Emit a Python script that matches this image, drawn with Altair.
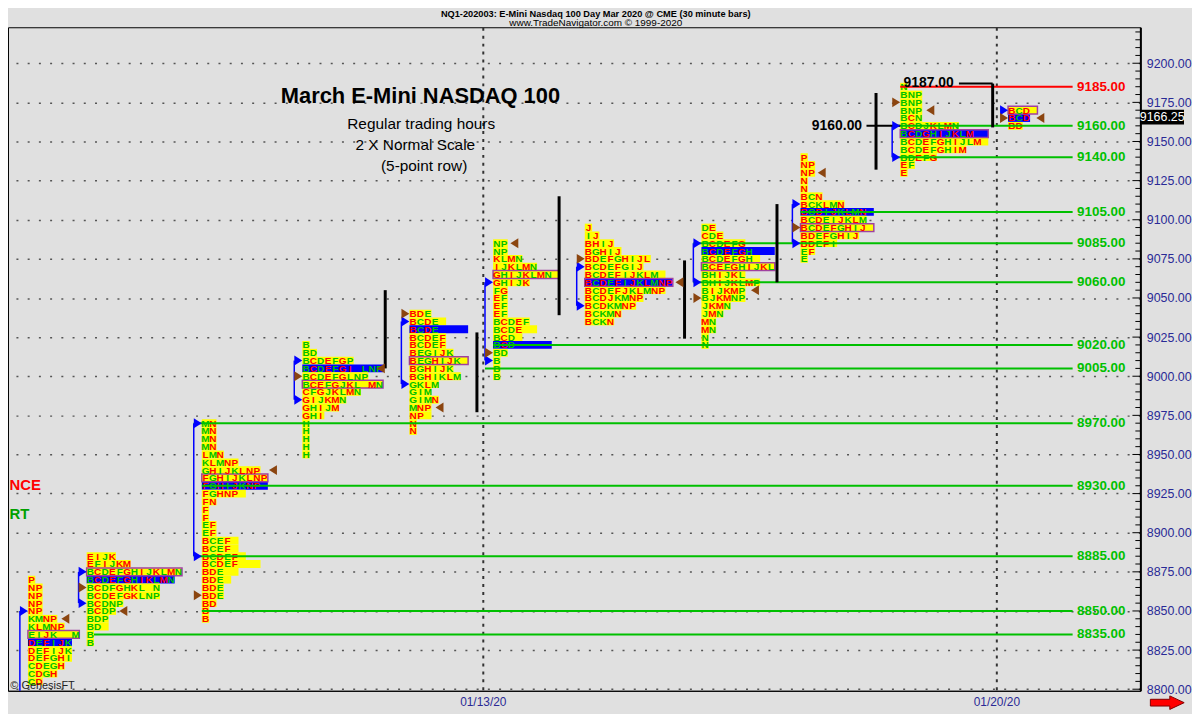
import altair as alt
import pandas as pd

# ---------------- data ----------------
X_MIN, X_MAX = -64.72, 89.63          # time axis in 30-minute bar slots (01/13/20 = 0)
Y_MIN, Y_MAX = 8799.0, 9223.0         # price axis
ROW = 5                               # 5-point rows

DATE_TICKS = [0, 70]
DATE_LABELS = ["01/13/20", "01/20/20"]
PRICE_TICKS = list(range(8800, 9201, 25))

PROFILE_STARTS = [-62.0, -54.0, -38.3, -24.6, -10.0, 1.4, 13.9, 29.8, 43.3, 56.9, 71.6]
PROFILE_TOPS = [8870, 8885, 8970, 9020, 9040, 9085, 9095, 9095, 9140, 9185, 9170]
# '*' = point-of-control row (blue), '#' = outlined row (purple)
PROFILE_ROWS = [
    ["P", "NP", "NP", "NP", "NP", "KMNP", "KLMNP", "#EIJK  M", "*DEFIJK", "DEFIJK",
     "DEFGHI", "CDEGH", "CDGH", "CD"],
    ["EIJK", "EFIJKM", "#BCDEFGHIJKLMN", "*BCDEFGHIKLMN", "BCDFGHKL N", "BCDEFGKLNP",
     "BCDNP", "BCDP", "BDP", "BD ", "B", "B"],
    ["MN", "MN", "MN", "MN", "LMN", "KLMNP", "GHIJKLNP", "#FGHIJKLNP", "*FGHIJKNP ",
     "FGHNP ", "FN", "F", "F", "EF", "EF", "BCEF ", "BCEF ", "BCDEF ", "BCDEF   ",
     "BDE  ", "BDE ", "BDE", "BDE", "BD", "B", "B"],
    ["B", "BD", "BCDEFGP", "*BCDEFGI LNP", "BCDEFGLNP", "#BCEFGJKL MN", "CFGJKLMN",
     "GIJKMN", "GHIJM", "GHI", "H", "H", "H", "H", "H"],
    ["BDE", "BCDE ", "*BCDE    ", "BCDEF", "BCDEF", "BEGIJK", "#BEGHIJK ", "BGHIJK",
     "BGHIKLM", "GKLM", "GIM", "GIMN", "MNP", "NP ", "N", "N"],
    ["NP", "NP", "KLMN", "IJKLMN", "#GHIJKLMN ", "GHIJK", "FG", "EF", "EF", "EF",
     "BCDEF", "BCDE  ", "BCD ", "*BCD     ", "BD", "B", "B", "B"],
    ["J", "IJ", "BHIJ", "BGHIJ", "BDEFGHIJL", "BCDEFGIJ", "BCDEFIJKLM ",
     "*#BCDEFIJKLMNP", "BCDEFJKLMNP", "BCDJKMNP", "BCDKMNP", "BCKMN", "BCKN"],
    ["DE", "CDE", "BCDEFG", "*BCDEFGH   ", "BCDEFGH ", "#BCEFGHIJKL", "BHIJKL",
     "BHIJKLMP", "BIJKMP", "BJKMNP", "JKMN", "JMN", "MN", "MN", "N", "N"],
    ["P", "NP", "NP", "N", "N", "BCN", "BCKLMN", "*BCDIJKLMN ", "BCDEIJKLM",
     "#BCDEFGHIJ ", "BDEFGHIJ", "BDEFI", "EF", "E"],
    ["N", "BNP", "BNP", "BNP", "BCN", "BCDJKLMN", "*#BCDGHIJKLM  ", "BCDEFGHIJLM ",
     "BCDEFGHIM", "BDEFG", "EF", "E"],
    ["#BCD ", "*BCD", "BD"],
]

# value-area markers
BLUE_TRI = [(0, 8850), (1, 8875), (1, 8855), (2, 8970), (2, 8885), (3, 9010), (3, 8985),
            (4, 9035), (4, 8995), (5, 9060), (5, 9010), (6, 9070), (6, 9045), (7, 9085),
            (7, 9060), (8, 9110), (8, 9085), (9, 9160), (9, 9140), (10, 9170)]
BLUE_LINES = [(0, 8850, 8799), (1, 8875, 8855), (2, 8970, 8885), (3, 9010, 8985),
              (4, 9035, 8995), (5, 9060, 9010), (6, 9070, 9045), (7, 9085, 9060),
              (8, 9110, 9085), (9, 9160, 9140)]
BROWN_LEFT = [(1, 8865), (2, 8860), (3, 9000), (4, 9040), (5, 9015), (6, 9075),
              (7, 9050), (8, 9095), (9, 9175), (10, 9165)]
BROWN_RIGHT_U = [-56.9, -49.0, -28.6, -13.9, -5.9, 4.3, 26.8, 37.1, 46.2, 61.0, 76.0]
BROWN_RIGHT_P = [8845, 8850, 8940, 9005, 8980, 9085, 9060, 9055, 9130, 9170, 9165]

# black range lines
BLACK_U = [-13.3, -0.8, 10.4, 27.5, 40.1, 53.6, 69.5]
BLACK_TOP = [9055, 9028, 9115, 9074, 9110, 9181, 9187]
BLACK_BOT = [9005, 8977, 9039, 9024, 9060, 9132, 9159]
BLACK_H_U1 = [64.9, 52.3]
BLACK_H_U2 = [69.5, 56.9]
BLACK_H_P = [9187, 9160]

# support / resistance levels
LEVEL_PRICES = [9185, 9160, 9140, 9105, 9085, 9060, 9020, 9005, 8970, 8930, 8885, 8850, 8835]
LEVEL_STARTS = [56.9, 55.8, 55.8, 43.3, 28.7, 28.7, 1.4, 0.3, -39.4, -38.3, -39.4, -38.3, -53.0]
LEVEL_END = 80.4
LEVEL_LABEL_U = 87.6

LAST_PRICE = 9166.25

# ---------------- styles ----------------
FONT = "Liberation Sans"
BG = "#e0e0e0"
NAVY = "#2a2a96"
GREEN = "#00c000"
RED = "#ff0000"
YELLOW = "#ffff00"
BLUE = "#0000ff"
PURPLE = "#a040a0"
BROWN = "#8b4510"

xs = alt.Scale(domain=[X_MIN, X_MAX], nice=False, zero=False)
ys = alt.Scale(domain=[Y_MIN, Y_MAX], nice=False, zero=False)

label_expr = " : ".join(
    [f"datum.value == {v} ? '{l}'" for v, l in zip(DATE_TICKS, DATE_LABELS)] + ["''"])

x_axis = alt.Axis(values=DATE_TICKS, labelExpr=label_expr,
                  title=None, orient="bottom", ticks=False, labelColor=NAVY,
                  labelFontSize=12, labelFont=FONT, labelPadding=6,
                  domainColor="black", domainWidth=1, grid=True, gridColor="#333333",
                  gridDash=[3, 5], gridWidth=2)
y_axis = alt.Axis(values=PRICE_TICKS, format=".2f", orient="right", title=None,
                  ticks=False, labelColor=NAVY, labelFontSize=12.5, labelFont=FONT,
                  labelPadding=6, domainColor="black", domainWidth=2, grid=True,
                  gridColor="#555555", gridDash=[2, 9.3], gridWidth=1.5)


def X(f):
    return alt.X(f"{f}:Q", scale=xs, axis=x_axis)


def Y(f):
    return alt.Y(f"{f}:Q", scale=ys, axis=y_axis)


# ---------------- build tables ----------------
letters, fills, outlines = [], [], []
for k, (s, top, rows) in enumerate(zip(PROFILE_STARTS, PROFILE_TOPS, PROFILE_ROWS)):
    for r, row in enumerate(rows):
        p = top - ROW * r
        blue = "*" in row
        purple = "#" in row
        text = row.replace("*", "").replace("#", "")
        fills.append(dict(u=s, u2=s + len(text), p1=p - 2.5, p2=p + 2.5,
                          fill=BLUE if blue else YELLOW))
        if purple:
            outlines.append(dict(u=s, u2=s + len(text), p1=p - 2.5, p2=p + 2.5))
        for i, ch in enumerate(text):
            if ch != " ":
                idx = ord(ch) - ord("A")
                col = RED if (idx + k) % 2 == 1 else GREEN
                letters.append(dict(u=s + i + 0.5, p=p, ch=ch, color=col))

letters_df = pd.DataFrame(letters)
fills_df = pd.DataFrame(fills)
outlines_df = pd.DataFrame(outlines)

ticks = []
for p in range(8800, 9221, 5):
    length = 1.08 if p % 25 == 0 else 0.68
    ticks.append(dict(u=X_MAX - length, u2=X_MAX, p=p))
ticks_df = pd.DataFrame(ticks)

blue_tri_df = pd.DataFrame([dict(u=PROFILE_STARTS[k] - 0.55, p=p) for k, p in BLUE_TRI])
brown_l_df = pd.DataFrame([dict(u=PROFILE_STARTS[k] - 0.55, p=p) for k, p in BROWN_LEFT])
brown_r_df = pd.DataFrame(dict(u=BROWN_RIGHT_U, p=BROWN_RIGHT_P))
blue_lines_df = pd.DataFrame([dict(u=PROFILE_STARTS[k] - 1.1, p1=a, p2=b) for k, a, b in BLUE_LINES])
black_v_df = pd.DataFrame(dict(u=BLACK_U, p1=BLACK_TOP, p2=BLACK_BOT))
black_h_df = pd.DataFrame(dict(u=BLACK_H_U1, u2=BLACK_H_U2, p=BLACK_H_P))
levels_df = pd.DataFrame(dict(
    p=LEVEL_PRICES, u=LEVEL_STARTS, u2=[LEVEL_END] * len(LEVEL_PRICES),
    lu=[LEVEL_LABEL_U] * len(LEVEL_PRICES),
    label=[f"{v:.2f}" for v in LEVEL_PRICES],
    color=[RED if v == 9185 else GREEN for v in LEVEL_PRICES]))

# ---------------- layers ----------------
axis_layer = alt.Chart(ticks_df).mark_rule(color="black", strokeWidth=1).encode(
    x=X("u"), x2="u2:Q", y=Y("p"))

fill_layer = alt.Chart(fills_df).mark_rect().encode(
    x=X("u"), x2="u2:Q", y=Y("p1"), y2="p2:Q", color=alt.Color("fill:N", scale=None))

outline_layer = alt.Chart(outlines_df).mark_rect(fillOpacity=0, stroke=PURPLE, strokeWidth=1.5).encode(
    x=X("u"), x2="u2:Q", y=Y("p1"), y2="p2:Q")

letter_layer = alt.Chart(letters_df).mark_text(
    font=FONT, fontSize=10, fontWeight="bold", align="center", baseline="middle", dy=0.5
).encode(x=X("u"), y=Y("p"), text="ch:N", color=alt.Color("color:N", scale=None))

blue_line_layer = alt.Chart(blue_lines_df).mark_rule(color=BLUE, strokeWidth=1.5).encode(
    x=X("u"), y=Y("p1"), y2="p2:Q")

level_layer = alt.Chart(levels_df).mark_rule(strokeWidth=2).encode(
    x=X("u"), x2="u2:Q", y=Y("p"), color=alt.Color("color:N", scale=None))

level_label_layer = alt.Chart(levels_df).mark_text(
    font=FONT, fontSize=13.5, fontWeight="bold", align="right", baseline="middle"
).encode(x=X("lu"), y=Y("p"), text="label:N", color=alt.Color("color:N", scale=None))

black_v_layer = alt.Chart(black_v_df).mark_rule(color="black", strokeWidth=3).encode(
    x=X("u"), y=Y("p1"), y2="p2:Q")
black_h_layer = alt.Chart(black_h_df).mark_rule(color="black", strokeWidth=2).encode(
    x=X("u"), x2="u2:Q", y=Y("p"))

TRI_RIGHT = "M-1,-1.25L1,0L-1,1.25Z"
TRI_LEFT = "M1,-1.25L-1,0L1,1.25Z"
blue_tri_layer = alt.Chart(blue_tri_df).mark_point(
    shape=TRI_RIGHT, filled=True, opacity=1, size=64, color=BLUE, strokeWidth=0
).encode(x=X("u"), y=Y("p"))
brown_l_layer = alt.Chart(brown_l_df).mark_point(
    shape=TRI_RIGHT, filled=True, opacity=1, size=64, color=BROWN, strokeWidth=0
).encode(x=X("u"), y=Y("p"))
brown_r_layer = alt.Chart(brown_r_df).mark_point(
    shape=TRI_LEFT, filled=True, opacity=1, size=64, color=BROWN, strokeWidth=0
).encode(x=X("u"), y=Y("p"))


def note(text, u, p, size, bold=False, color="black", align="center"):
    df = pd.DataFrame(dict(u=[u], p=[p], t=[text]))
    kw = dict(font=FONT, fontSize=size, align=align, baseline="middle", color=color)
    if bold:
        kw["fontWeight"] = "bold"
    return alt.Chart(df).mark_text(**kw).encode(x=X("u"), y=Y("p"), text="t:N")


notes = [
    note("NQ1-202003:  E-Mini Nasdaq 100 Day Mar 2020 @ CME  (30 minute bars)", 15.4, 9231.2, 9.3, bold=True),
    note("www.TradeNavigator.com © 1999-2020", 15.4, 9225.8, 10),
    note("March E-Mini NASDAQ 100", -8.5, 9179.0, 22, bold=True),
    note("Regular trading hours", -8.4, 9161.4, 15.5),
    note("2 X Normal Scale", -9.2, 9147.5, 15.5),
    note("(5-point row)", -8.0, 9134.1, 15.5),
    note("9187.00", 64.2, 9187.5, 14, bold=True, align="right"),
    note("9160.00", 51.7, 9160.0, 14, bold=True, align="right"),
    note("NCE", -64.5, 8930.4, 15, bold=True, color=RED, align="left"),
    note("RT", -64.5, 8912.0, 15, bold=True, color="#00a000", align="left"),
    note("© GenesisFT", -64.4, 8802.0, 11, color="#222222", align="left"),
]

price_box = alt.Chart(pd.DataFrame(dict(u=[X_MAX], u2=[X_MAX + 5.95], p1=[9160.8], p2=[9170.3]))).mark_rect(
    color="black").encode(x=X("u"), x2="u2:Q", y=Y("p1"), y2="p2:Q")
price_txt = note(f"{LAST_PRICE:.2f}", X_MAX + 2.98, 9165.6, 12.5, color="white")

ARROW = "M-1,-0.2L0.15,-0.2L0.15,-0.4L1,0L0.15,0.4L0.15,0.2L-1,0.2Z"
arrow = alt.Chart(pd.DataFrame(dict(u=[93.3], p=[8791.4]))).mark_point(
    shape=ARROW, filled=True, opacity=1, size=1156, fill=RED, stroke="#800000", strokeWidth=1
).encode(x=X("u"), y=Y("p"))

chart = alt.layer(
    axis_layer, fill_layer, outline_layer, letter_layer, blue_line_layer,
    level_layer, level_label_layer, black_v_layer, black_h_layer,
    blue_tri_layer, brown_l_layer, brown_r_layer, *notes, price_box, price_txt, arrow
).properties(
    width=1140, height=668,
    padding={"left": 0, "top": 17, "right": 52, "bottom": 21},
    autosize=alt.AutoSizeParams(type="none"),
    background=BG,
).configure_view(stroke="black", strokeWidth=1, fill=BG)

chart.save("out.html", embed_options={"renderer": "svg", "actions": False})
